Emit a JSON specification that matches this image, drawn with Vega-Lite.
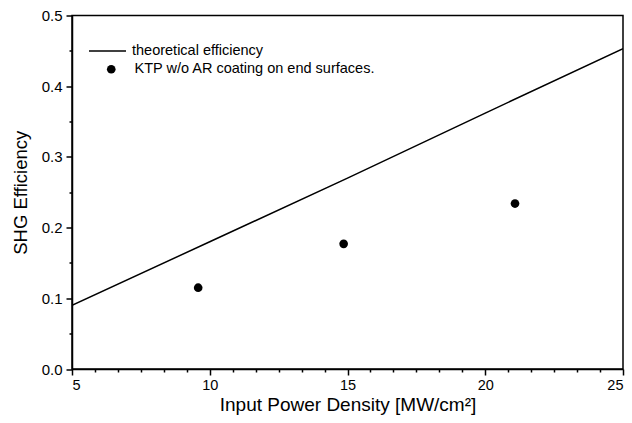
{
  "$schema": "https://vega.github.io/schema/vega-lite/v6.json",
  "width": 551,
  "height": 353.5,
  "autosize": {"type": "none"},
  "padding": {"left": 72, "top": 15.5, "right": 9, "bottom": 54},
  "background": "white",
  "config": {
    "font": "Liberation Sans",
    "view": {"stroke": "black", "strokeWidth": 1.5},
    "axis": {
      "domainColor": "black", "domainWidth": 1.5, "tickColor": "black", "tickWidth": 1.5,
      "labelColor": "black", "titleColor": "black", "labelFont": "Liberation Sans",
      "titleFont": "Liberation Sans", "titleFontWeight": "normal", "grid": false
    },
    "legend": {"labelFont": "Liberation Sans", "labelColor": "black", "labelFontSize": 14.5, "padding": 0, "labelLimit": 0}
  },
  "datasets": {
    "theory": [
      {"power": 5, "eff": 0.09, "series": "theoretical efficiency"},
      {"power": 10, "eff": 0.18, "series": "theoretical efficiency"},
      {"power": 15, "eff": 0.27, "series": "theoretical efficiency"},
      {"power": 20, "eff": 0.362, "series": "theoretical efficiency"},
      {"power": 25, "eff": 0.453, "series": "theoretical efficiency"}
    ],
    "measured": [
      {"power": 9.58, "eff": 0.115, "series": "KTP w/o AR coating on end surfaces."},
      {"power": 14.86, "eff": 0.177, "series": "KTP w/o AR coating on end surfaces."},
      {"power": 21.08, "eff": 0.234, "series": "KTP w/o AR coating on end surfaces."}
    ]
  },
  "layer": [
    {
      "data": {"name": "theory"},
      "mark": {"type": "line", "strokeWidth": 1.5, "clip": true},
      "encoding": {
        "x": {"field": "power", "type": "quantitative",
          "scale": {"domain": [5, 25], "nice": false, "zero": false},
          "axis": {"values": [5, 10, 15, 20, 25], "orient": "bottom", "tickSize": 6, "labelFontSize": 14.5, "labelPadding": 3,
            "title": "Input Power Density [MW/cm²]", "titleFontSize": 19, "titlePadding": 4}},
        "y": {"field": "eff", "type": "quantitative",
          "scale": {"domain": [0, 0.5], "nice": false, "zero": false},
          "axis": {"values": [0, 0.1, 0.2, 0.3, 0.4, 0.5], "format": ".1f", "orient": "left", "tickSize": 6, "labelFontSize": 15, "labelPadding": 4,
            "title": "SHG Efficiency", "titleFontSize": 18.5, "titlePadding": 11}},
        "color": {"field": "series", "type": "nominal",
          "scale": {"range": ["black"]},
          "legend": {"title": null, "orient": "none", "legendX": 16, "legendY": 16,
            "symbolType": "stroke", "symbolSize": 1369, "symbolStrokeWidth": 1.5, "labelOffset": 5}}
      }
    },
    {
      "data": {"name": "measured"},
      "mark": {"type": "point", "filled": true, "size": 75, "opacity": 1, "color": "black"},
      "encoding": {
        "x": {"field": "power", "type": "quantitative",
          "axis": {"values": [5.833, 6.667, 7.5, 8.333, 9.167, 10.833, 11.667, 12.5, 13.333, 14.167, 15.833, 16.667, 17.5, 18.333, 19.167, 20.833, 21.667, 22.5, 23.333, 24.167],
            "orient": "bottom", "labels": false, "domain": false, "tickSize": 3, "title": null}},
        "y": {"field": "eff", "type": "quantitative",
          "axis": {"values": [0.05, 0.15, 0.25, 0.35, 0.45], "orient": "left", "labels": false, "domain": false, "tickSize": 3, "title": null}},
        "shape": {"field": "series", "type": "nominal",
          "scale": {"range": ["circle"]},
          "legend": {"title": null, "orient": "none", "legendX": 32, "legendY": 46.5,
            "symbolFillColor": "black", "symbolStrokeColor": "black", "symbolSize": 75, "labelOffset": 16}}
      }
    }
  ],
  "resolve": {"axis": {"x": "independent", "y": "independent"}}
}
